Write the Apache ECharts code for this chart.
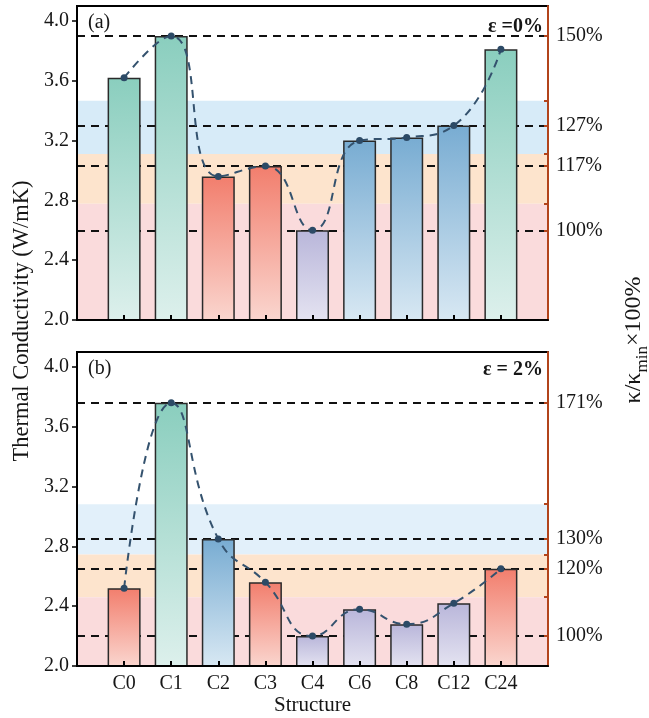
<!DOCTYPE html>
<html>
<head>
<meta charset="utf-8">
<script src="https://cdn.jsdelivr.net/npm/echarts@6/dist/echarts.min.js"></script>
<style>
  html, body { margin: 0; padding: 0; background: #fff; }
  #chart { width: 649px; height: 718px; }
</style>
</head>
<body>
<div id="chart"></div>
<script>
// Thermal conductivity of each structure at two strain levels
const structures = ['C0', 'C1', 'C2', 'C3', 'C4', 'C6', 'C8', 'C12', 'C24'];
const kappaStrain0 = [3.62, 3.90, 2.96, 3.03, 2.60, 3.20, 3.22, 3.30, 3.81];
const kappaStrain2 = [2.52, 3.76, 2.85, 2.56, 2.20, 2.38, 2.28, 2.42, 2.65];
// colour family of each bar
const groupStrain0 = ['green', 'green', 'red', 'red', 'purple', 'blue', 'blue', 'blue', 'green'];
const groupStrain2 = ['red', 'green', 'blue', 'red', 'purple', 'purple', 'purple', 'purple', 'red'];
// structures whose κ gets a dashed reference line and a κ/κmin percentage
const refStrain0 = ['C1', 'C12', 'C3', 'C4'];
const refStrain2 = ['C1', 'C2', 'C24', 'C4'];
// shaded κ ranges (W/mK), high to low
const bandsStrain0 = [[3.467, 3.111], [3.111, 2.778], [2.778, 2.0]];
const bandsStrain2 = [[3.082, 2.745], [2.745, 2.46], [2.46, 2.0]];
// left axis
const kappaTicks = [2.0, 2.4, 2.8, 3.2, 3.6, 4.0];
const kappaRange = [2.0, 4.1];

const FONT = '"Liberation Serif", "Times New Roman", serif';
const TEXT = '#161616';
const AXIS_RIGHT = '#b2441b';

const barGradients = {
  green:  ['#8acebe', '#ddf0ec'],
  red:    ['#f27e6d', '#fad6cf'],
  blue:   ['#78acd2', '#d8e8f3'],
  purple: ['#b9b6da', '#e4e3f1']
};
const bandColorsStrain0 = ['#d7ebf8', '#fde4cd', '#fadbdc'];
const bandColorsStrain2 = ['#e2f0fa', '#fde4cd', '#fadbdc'];

function gradient(name) {
  const c = barGradients[name];
  return new echarts.graphic.LinearGradient(0, 0, 0, 1, [
    { offset: 0, color: c[0] },
    { offset: 1, color: c[1] }
  ]);
}

// one empty slot each side so the bars sit one step in from the frame
const categories = [''].concat(structures, ['']);
const pad = arr => [null].concat(arr, [null]);

const grids = [
  { left: 77, top: 6, width: 471, height: 314 },
  { left: 77, top: 352, width: 471, height: 314 }
];

const option = {
  animation: false,
  backgroundColor: '#fff',
  textStyle: { fontFamily: FONT, color: TEXT },
  grid: grids.map(g => Object.assign({
    show: true, borderColor: '#000', borderWidth: 2,
    backgroundColor: 'transparent', z: 4
  }, g)),
  title: [
    { text: '(a)', left: 83, top: 8, textStyle: { fontFamily: FONT, fontSize: 20, fontWeight: 'normal', color: TEXT } },
    { text: 'ε =0%', right: 101, top: 12, textStyle: { fontFamily: FONT, fontSize: 20, fontWeight: 'bold', color: TEXT } },
    { text: '(b)', left: 83, top: 354, textStyle: { fontFamily: FONT, fontSize: 20, fontWeight: 'normal', color: TEXT } },
    { text: 'ε = 2%', right: 101, top: 355, textStyle: { fontFamily: FONT, fontSize: 20, fontWeight: 'bold', color: TEXT } }
  ],
  xAxis: [],
  yAxis: [],
  series: [],
  graphic: [
    {
      type: 'text', x: 22, y: 321, rotation: Math.PI / 2,
      style: {
        text: 'Thermal Conductivity (W/mK)', fontFamily: FONT, fontSize: 22.5,
        fill: TEXT, align: 'center', verticalAlign: 'middle'
      }
    },
    {
      type: 'text', x: 622, y: 340, rotation: Math.PI / 2,
      style: {
        text: '{m|κ/κ}{s|min}{m|×100%}',
        fontFamily: FONT, fill: TEXT, align: 'center', verticalAlign: 'top',
        rich: {
          m: { fontFamily: FONT, fontSize: 24, lineHeight: 27, verticalAlign: 'top', color: TEXT },
          s: { fontFamily: FONT, fontSize: 17, lineHeight: 27, verticalAlign: 'top', padding: [12, 0, 0, 0], color: '#27276e' }
        }
      }
    }
  ]
};

function addPanel(index, values, groups, refs, bands, bandColors, showLabels) {
  const kMin = Math.min.apply(null, values);
  const refValues = refs.map(name => values[structures.indexOf(name)]);
  const toPct = v => v / kMin * 100;

  option.xAxis.push({
    type: 'category', gridIndex: index, data: categories, boundaryGap: false, z: 5,
    axisLine: { lineStyle: { color: '#000', width: 2 } },
    axisTick: {
      inside: true, length: 5, lineStyle: { color: '#000', width: 2 },
      interval: i => i > 0 && i < categories.length - 1
    },
    axisLabel: {
      show: showLabels, interval: 0, fontFamily: FONT, fontSize: 20, color: TEXT, margin: 8
    },
    name: showLabels ? 'Structure' : '',
    nameLocation: 'middle', nameGap: 26,
    nameTextStyle: { fontFamily: FONT, fontSize: 21, color: TEXT },
    splitLine: { show: false }
  });

  option.yAxis.push({
    type: 'value', gridIndex: index, min: kappaRange[0], max: kappaRange[1], z: 5,
    axisLine: { show: true, lineStyle: { color: '#000', width: 2 } },
    axisTick: { show: true, inside: false, length: 5, customValues: kappaTicks, lineStyle: { color: '#000', width: 1.5 } },
    axisLabel: {
      customValues: kappaTicks, formatter: v => v.toFixed(1),
      fontFamily: FONT, fontSize: 20, color: TEXT, margin: 8
    },
    splitLine: { show: false }
  });

  // κ/κmin percentage scale on the right
  const bandEdges = bands.map(b => b[0]).concat(bands.map(b => b[1])).filter(v => v > kappaRange[0]);
  option.yAxis.push({
    type: 'value', gridIndex: index, position: 'right', z: 5,
    min: toPct(kappaRange[0]), max: toPct(kappaRange[1]),
    axisLine: { show: true, lineStyle: { color: AXIS_RIGHT, width: 2 } },
    axisTick: {
      show: true, inside: true, length: 4,
      customValues: refValues.concat(bandEdges).map(toPct),
      lineStyle: { color: AXIS_RIGHT, width: 2 }
    },
    axisLabel: {
      customValues: refValues.map(toPct), formatter: v => Math.round(v) + '%',
      fontFamily: FONT, fontSize: 20, color: TEXT, margin: 8
    },
    splitLine: { show: false }
  });

  const xi = index, yi = index * 2;

  // shaded ranges and dashed reference lines, behind the bars
  option.series.push({
    type: 'line', xAxisIndex: xi, yAxisIndex: yi, data: [], z: 0, silent: true,
    markArea: {
      silent: true, z: 0,
      data: bands.map((b, i) => [
        { yAxis: b[0], itemStyle: { color: bandColors[i] } },
        { yAxis: b[1] }
      ])
    }
  });
  option.series.push({
    type: 'line', xAxisIndex: xi, yAxisIndex: yi, data: [], z: 1, silent: true,
    markLine: {
      silent: true, z: 1, symbol: 'none', label: { show: false },
      lineStyle: { color: '#111', type: [8, 6], width: 1.8 },
      data: refValues.map(v => ({ yAxis: v }))
    }
  });

  option.series.push({
    type: 'bar', xAxisIndex: xi, yAxisIndex: yi, z: 2, barWidth: 33,
    data: pad(values.map((v, i) => ({
      value: v,
      itemStyle: { color: gradient(groups[i]) }
    }))),
    itemStyle: { borderColor: '#2a2a2a', borderWidth: 1.5 }
  });

  option.series.push({
    type: 'line', xAxisIndex: xi, yAxisIndex: yi, z: 3, smooth: true,
    data: pad(values), symbol: 'circle', symbolSize: 7,
    itemStyle: { color: '#2c4a66' },
    lineStyle: { color: '#34526e', width: 2, type: [8, 6] }
  });
}

addPanel(0, kappaStrain0, groupStrain0, refStrain0, bandsStrain0, bandColorsStrain0, false);
addPanel(1, kappaStrain2, groupStrain2, refStrain2, bandsStrain2, bandColorsStrain2, true);

const chart = echarts.init(document.getElementById('chart'), null, { renderer: 'canvas' });
chart.setOption(option);
</script>
</body>
</html>
